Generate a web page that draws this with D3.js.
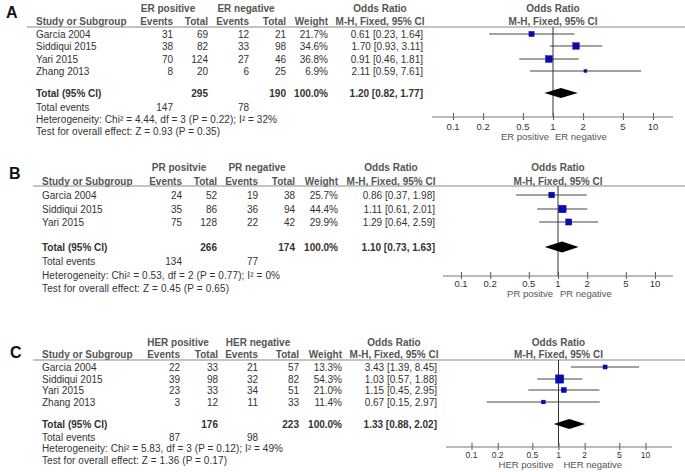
<!DOCTYPE html>
<html><head><meta charset="utf-8">
<script src="https://cdn.jsdelivr.net/npm/d3@7/dist/d3.min.js"></script>
<style>
body{margin:0;background:#fff;}
svg text{font-family:"Liberation Sans",Arial,sans-serif;}
</style></head>
<body><svg id="chart" width="685" height="472"></svg>
<script>
// ---------- DATA ----------
const tickValues = [0.1, 0.2, 0.5, 1, 2, 5, 10];

// Panel A: ER
const erStudies = ["Garcia 2004", "Siddiqui 2015", "Yari 2015", "Zhang 2013"];
const erPosEvents = [31, 38, 70, 8];
const erPosTotal = [69, 82, 124, 20];
const erNegEvents = [12, 33, 27, 6];
const erNegTotal = [21, 98, 46, 25];
const erWeight = [21.7, 34.6, 36.8, 6.9];
const erOR = [0.61, 1.70, 0.91, 2.11];
const erLow = [0.23, 0.93, 0.46, 0.59];
const erHigh = [1.64, 3.11, 1.81, 7.61];
const erPooled = [1.20, 0.82, 1.77];
const erTotals = [295, 190];
const erTotalEvents = [147, 78];
const erHet = "Heterogeneity: Chi\u00b2 = 4.44, df = 3 (P = 0.22); I\u00b2 = 32%";
const erTest = "Test for overall effect: Z = 0.93 (P = 0.35)";
const erGroups = ["ER positive", "ER negative"];
const erDirection = ["ER positive", "ER negative"];

// Panel B: PR
const prStudies = ["Garcia 2004", "Siddiqui 2015", "Yari 2015"];
const prPosEvents = [24, 35, 75];
const prPosTotal = [52, 86, 128];
const prNegEvents = [19, 36, 22];
const prNegTotal = [38, 94, 42];
const prWeight = [25.7, 44.4, 29.9];
const prOR = [0.86, 1.11, 1.29];
const prLow = [0.37, 0.61, 0.64];
const prHigh = [1.98, 2.01, 2.59];
const prPooled = [1.10, 0.73, 1.63];
const prTotals = [266, 174];
const prTotalEvents = [134, 77];
const prHet = "Heterogeneity: Chi\u00b2 = 0.53, df = 2 (P = 0.77); I\u00b2 = 0%";
const prTest = "Test for overall effect: Z = 0.45 (P = 0.65)";
const prGroups = ["PR positvie", "PR negative"];
const prDirection = ["PR positve", "PR negative"];

// Panel C: HER
const herStudies = ["Garcia 2004", "Siddiqui 2015", "Yari 2015", "Zhang 2013"];
const herPosEvents = [22, 39, 23, 3];
const herPosTotal = [33, 98, 33, 12];
const herNegEvents = [21, 32, 34, 11];
const herNegTotal = [57, 82, 51, 33];
const herWeight = [13.3, 54.3, 21.0, 11.4];
const herOR = [3.43, 1.03, 1.15, 0.67];
const herLow = [1.39, 0.57, 0.45, 0.15];
const herHigh = [8.45, 1.88, 2.95, 2.97];
const herPooled = [1.33, 0.88, 2.02];
const herTotals = [176, 223];
const herTotalEvents = [87, 98];
const herHet = "Heterogeneity: Chi\u00b2 = 5.83, df = 3 (P = 0.12); I\u00b2 = 49%";
const herTest = "Test for overall effect: Z = 1.36 (P = 0.17)";
const herGroups = ["HER positive", "HER negative"];
const herDirection = ["HER positive", "HER negative"];

// ---------- LAYOUT ----------
const panels = [
  { letter: "A", studies: erStudies, pe: erPosEvents, pt: erPosTotal, ne: erNegEvents, nt: erNegTotal,
    w: erWeight, or: erOR, lo: erLow, hi: erHigh, pooled: erPooled, totals: erTotals, tev: erTotalEvents,
    het: erHet, test: erTest, groups: erGroups, dir: erDirection,
    L: { letterX: 6, letterY: 18, h1: 8, h2: 21, line: 27, lineX0: 27, rows: [34, 46, 59, 71], total: 93, tev: 107, het: 119, test: 131,
         axisY: 117, tickY: 127, dirY: 137, study: 36, c: [173, 208, 249, 286, 328, 423], g: [168, 246], orHdr: 380,
         one: 553, dec: 100, ax: [432, 673], dia: 10, hetW: 241, testW: 184, tickFS: 9.5, dirFS: 9.5, dirGap: [4, 2] } },
  { letter: "B", studies: prStudies, pe: prPosEvents, pt: prPosTotal, ne: prNegEvents, nt: prNegTotal,
    w: prWeight, or: prOR, lo: prLow, hi: prHigh, pooled: prPooled, totals: prTotals, tev: prTotalEvents,
    het: prHet, test: prTest, groups: prGroups, dir: prDirection,
    L: { letterX: 9, letterY: 179, h1: 167, h2: 181, line: 186, lineX0: 33, rows: [195, 209, 222], total: 247, tev: 261, het: 275, test: 288,
         axisY: 276, tickY: 284, dirY: 294, study: 42, c: [182, 217, 258, 295, 338, 435], g: [179, 257], orHdr: 391,
         one: 558, dec: 97, ax: [443, 673], dia: 11, hetW: 238, testW: 187, tickFS: 9.5, dirFS: 9.5, dirGap: [5, 2] } },
  { letter: "C", studies: herStudies, pe: herPosEvents, pt: herPosTotal, ne: herNegEvents, nt: herNegTotal,
    w: herWeight, or: herOR, lo: herLow, hi: herHigh, pooled: herPooled, totals: herTotals, tev: herTotalEvents,
    het: herHet, test: herTest, groups: herGroups, dir: herDirection,
    L: { letterX: 10, letterY: 358, h1: 342, h2: 354, line: 360, lineX0: 33, rows: [367, 379, 390, 402], total: 424, tev: 437, het: 448, test: 460,
         axisY: 447, tickY: 454.5, dirY: 464.5, study: 42, c: [180, 218, 258, 299, 342, 437], g: [178, 258], orHdr: 394,
         one: 558.5, dec: 87, ax: [446, 672], dia: 10, hetW: 241, testW: 185, tickFS: 8.5, dirFS: 9.5, dirGap: [5, 5] } }
];

const svg = d3.select("#chart");
const FS = 10;
const TXT = "#333";
const fmt2 = d3.format(".2f");
const fmt1 = d3.format(".1f");
const ciText = (o, l, h) => `${fmt2(o)} [${fmt2(l)}, ${fmt2(h)}]`;

function txt(g, x, y, s, opts = {}) {
  const fs = opts.size || FS;
  const t = g.append("text").attr("x", x).attr("y", y + fs * 0.36)
    .attr("font-size", fs)
    .attr("font-weight", opts.bold ? "bold" : "normal")
    .attr("text-anchor", opts.anchor || "start")
    .attr("fill", opts.fill || TXT).text(s);
  if (opts.len) t.attr("textLength", opts.len).attr("lengthAdjust", "spacing");
  return t;
}

panels.forEach(p => {
  const L = p.L;
  const g = svg.append("g");
  const x = d3.scaleLog().domain([0.1, 10]).range([L.one - L.dec, L.one + L.dec]);

  g.append("text").attr("x", L.letterX).attr("y", L.letterY).attr("font-size", 16)
    .attr("font-weight", "bold").attr("fill", "#111").text(p.letter);

  // headers
  const H = { bold: true, fill: "#555" };
  txt(g, L.g[0], L.h1, p.groups[0], { ...H, anchor: "middle" });
  txt(g, L.g[1], L.h1, p.groups[1], { ...H, anchor: "middle" });
  txt(g, L.orHdr, L.h1, "Odds Ratio", { ...H, anchor: "middle" });
  txt(g, L.one, L.h1, "Odds Ratio", { ...H, anchor: "middle" });
  txt(g, L.study, L.h2, "Study or Subgroup", H);
  ["Events", "Total", "Events", "Total", "Weight"].forEach((h, i) =>
    txt(g, L.c[i], L.h2, h, { ...H, anchor: "end" }));
  txt(g, L.orHdr, L.h2, "M-H, Fixed, 95% CI", { ...H, anchor: "middle" });
  txt(g, L.one, L.h2, "M-H, Fixed, 95% CI", { ...H, anchor: "middle" });

  g.append("line").attr("x1", L.lineX0).attr("x2", 685).attr("y1", L.line).attr("y2", L.line)
    .attr("stroke", "#888").attr("stroke-width", 1);

  // study rows
  p.studies.forEach((s, i) => {
    const y = L.rows[i];
    txt(g, L.study, y, s);
    txt(g, L.c[0], y, p.pe[i], { anchor: "end" });
    txt(g, L.c[1], y, p.pt[i], { anchor: "end" });
    txt(g, L.c[2], y, p.ne[i], { anchor: "end" });
    txt(g, L.c[3], y, p.nt[i], { anchor: "end" });
    txt(g, L.c[4], y, fmt1(p.w[i]) + "%", { anchor: "end" });
    txt(g, L.c[5], y, ciText(p.or[i], p.lo[i], p.hi[i]), { anchor: "end" });
  });

  // total row
  txt(g, L.study, L.total, "Total (95% CI)", { bold: true });
  txt(g, L.c[1], L.total, p.totals[0], { bold: true, anchor: "end" });
  txt(g, L.c[3], L.total, p.totals[1], { bold: true, anchor: "end" });
  txt(g, L.c[4], L.total, "100.0%", { bold: true, anchor: "end" });
  txt(g, L.c[5], L.total, ciText(...p.pooled), { bold: true, anchor: "end" });
  txt(g, L.study, L.tev, "Total events");
  txt(g, L.c[0], L.tev, p.tev[0], { anchor: "end" });
  txt(g, L.c[2], L.tev, p.tev[1], { anchor: "end" });
  txt(g, L.study, L.het, p.het, { len: L.hetW });
  txt(g, L.study, L.test, p.test, { len: L.testW });

  // vertical line of no effect
  g.append("line").attr("x1", x(1)).attr("x2", x(1)).attr("y1", L.line).attr("y2", L.axisY)
    .attr("stroke", "#333").attr("stroke-width", 1);

  // CIs and squares
  p.studies.forEach((s, i) => {
    const y = L.rows[i];
    g.append("line").attr("x1", x(p.lo[i])).attr("x2", x(p.hi[i])).attr("y1", y).attr("y2", y)
      .attr("stroke", "#444").attr("stroke-width", 1);
    const side = Math.sqrt(p.w[i]) * 1.12;
    g.append("rect").attr("x", x(p.or[i]) - side / 2).attr("y", y - side / 2)
      .attr("width", side).attr("height", side).attr("fill", "#0b0bb5").attr("stroke", "#000080").attr("stroke-width", 0.4);
  });

  // pooled diamond
  const dy = L.total, hh = L.dia / 2;
  g.append("path").attr("d", `M${x(p.pooled[1])},${dy} L${x(p.pooled[0])},${dy - hh} L${x(p.pooled[2])},${dy} L${x(p.pooled[0])},${dy + hh} Z`)
    .attr("fill", "#000");

  // axis
  const axis = d3.axisBottom(x).tickValues(tickValues).tickFormat(d => String(d)).tickSize(0).tickPadding(0);
  const ag = g.append("g").attr("transform", `translate(0,${L.axisY})`).call(axis);
  ag.select(".domain").remove();
  ag.selectAll(".tick text").remove();
  ag.selectAll(".tick").append("line").attr("y1", -4).attr("y2", 3).attr("stroke", "#555");
  g.append("line").attr("x1", L.ax[0]).attr("x2", L.ax[1]).attr("y1", L.axisY).attr("y2", L.axisY)
    .attr("stroke", "#777").attr("stroke-width", 1);
  tickValues.forEach(t => txt(g, x(t), L.tickY, String(t), { anchor: "middle", size: L.tickFS }));
  txt(g, x(1) - L.dirGap[0], L.dirY, p.dir[0], { anchor: "end", size: L.dirFS, fill: "#555" });
  txt(g, x(1) + L.dirGap[1], L.dirY, p.dir[1], { anchor: "start", size: L.dirFS, fill: "#555" });
});
</script></body></html>
